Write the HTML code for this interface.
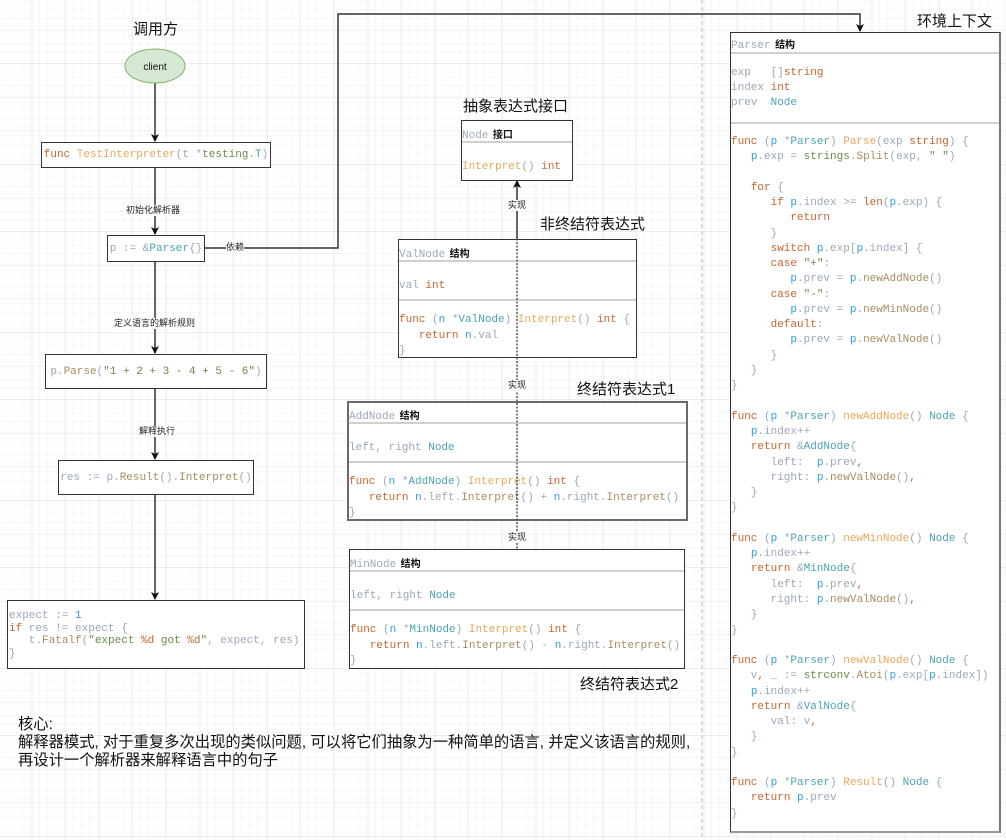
<!DOCTYPE html>
<html><head><meta charset="utf-8"><style>
body{margin:0;width:1006px;height:840px;position:relative;overflow:hidden;background:#fff;font-family:"Liberation Sans","Noto Sans CJK SC",sans-serif}
.a{position:absolute}
.box{position:absolute;background:#fff;border:1.5px solid #333;box-sizing:border-box}
pre,.c{font-family:"Liberation Mono","Noto Sans CJK SC",monospace;font-size:11px;margin:0;white-space:pre;color:#9aa8b8}
.k{color:#c8642c}.f{color:#e9a75a}.t{color:#4aa3b5}.p{color:#2d9ee0}.s{color:#6a8a4a}.m{color:#a88c60}.n{color:#4a8ac0}
.h{font-family:"Liberation Sans","Noto Sans CJK SC",sans-serif;font-weight:bold;color:#111;font-size:10px}
.sep{position:absolute;left:0;right:0;height:0;border-top:2px solid #d0d0d0}
.ttl{position:absolute;font-size:15px;color:#111;white-space:nowrap}
.lb{position:absolute;font-size:9px;color:#222;background:#fff;white-space:nowrap;line-height:11px}
.cen{display:flex;align-items:center;justify-content:center}
</style></head><body>
<svg class="a" style="left:0;top:0" width="1006" height="840">
<defs>
<pattern id="mi" x="-1.3" y="-3.3" width="8.4" height="8.4" patternUnits="userSpaceOnUse"><path d="M8.4 0V8.4M0 8.4H8.4" stroke="#f0f0f0" stroke-width="1" fill="none"/></pattern>
<pattern id="ma" x="-1.3" y="-3.3" width="33.6" height="33.6" patternUnits="userSpaceOnUse"><rect width="33.6" height="33.6" fill="url(#mi)"/><path d="M33.6 0V33.6M0 33.6H33.6" stroke="#dedede" stroke-width="1" fill="none"/></pattern>
<marker id="ar" markerWidth="8" markerHeight="8" refX="7" refY="4" orient="auto" markerUnits="userSpaceOnUse"><path d="M0,0 L8,4 L0,8 L2,4 Z" fill="#111"/></marker>
</defs>
<rect width="1006" height="840" fill="url(#ma)"/>
<line x1="702" y1="0" x2="702" y2="840" stroke="#bbb" stroke-dasharray="4,3"/>
<g stroke="#333" stroke-width="1.5" fill="none">
<line x1="155" y1="83" x2="155" y2="141" marker-end="url(#ar)"/>
<line x1="155" y1="167" x2="155" y2="234" marker-end="url(#ar)"/>
<line x1="155" y1="261" x2="155" y2="353" marker-end="url(#ar)"/>
<line x1="155" y1="388" x2="155" y2="459" marker-end="url(#ar)"/>
<line x1="155" y1="494" x2="155" y2="599" marker-end="url(#ar)"/>
<polyline points="204,248 338,248 338,14 860,14 860,31" marker-end="url(#ar)"/>
<line x1="517" y1="239" x2="517" y2="181" marker-end="url(#ar)"/>
</g>
<ellipse cx="155" cy="66" rx="30" ry="17" fill="#d5e8d4" stroke="#82b366"/>
<text x="155" y="70" font-size="10" text-anchor="middle" font-family="Liberation Sans" fill="#111">client</text>
</svg>

<div class="ttl" style="left:133px;top:18px">调用方</div>
<div class="lb" style="left:126px;top:205px">初始化解析器</div>
<div class="lb" style="left:226px;top:242px">依赖</div>
<div class="lb" style="left:114px;top:318px">定义语言的解析规则</div>
<div class="lb" style="left:139px;top:426px">解释执行</div>

<div class="box cen" style="left:41px;top:142px;width:230px;height:26px"><span class="c"><span class="k">func</span> <span class="f">TestInterpreter</span>(t *<span class="s">testing</span>.<span class="t">T</span>)</span></div>
<div class="box cen" style="left:107px;top:235px;width:98px;height:27px"><span class="c">p := &amp;<span class="t">Parser</span>{}</span></div>
<div class="box cen" style="left:45px;top:354px;width:222px;height:35px"><span class="c">p.<span class="m">Parse</span>(<span class="s">"1 + 2 + 3 - 4 + 5 - 6"</span>)</span></div>
<div class="box cen" style="left:58px;top:460px;width:196px;height:35px"><span class="c">res := p.<span class="m">Result</span>().<span class="m">Interpret</span>()</span></div>
<div class="box" style="left:7px;top:600px;width:298px;height:69px;padding:9px 0 0 1px"><pre style="line-height:12.5px">expect := <span class="n">1</span>
<span class="k">if</span> res != expect {
   t.<span class="m">Fatalf</span>(<span class="s">"expect <span class="k">%d</span> got <span class="k">%d</span>"</span>, expect, res)
}</pre></div>

<div class="a" style="left:18px;top:716px;font-size:15.3px;line-height:18px;color:#111;white-space:nowrap">核心:<br>解释器模式, 对于重复多次出现的类似问题, 可以将它们抽象为一种简单的语言, 并定义该语言的规则,<br>再设计一个解析器来解释语言中的句子</div>

<div class="ttl" style="left:463px;top:95px">抽象表达式接口</div>
<div class="box" style="left:461px;top:120px;width:112px;height:61px">
<div class="a" style="left:0;top:4px"><span class="c">Node</span> <span class="h">接口</span></div>
<div class="sep" style="top:20px"></div>
<div class="a" style="left:0;top:35px"><span class="c"><span class="f">Interpret</span>() <span class="k">int</span></span></div>
</div>
<div class="ttl" style="left:540px;top:213px">非终结符表达式</div>
<div class="box" style="left:398px;top:239px;width:239px;height:119px">
<div class="a" style="left:0;top:4px"><span class="c">ValNode</span> <span class="h">结构</span></div>
<div class="sep" style="top:20px"></div>
<div class="a" style="left:0;top:35px"><span class="c">val <span class="k">int</span></span></div>
<div class="sep" style="top:59px"></div>
<pre class="a" style="left:0;top:73px;line-height:15.5px"><span class="k">func</span> (<span class="p">n</span> *<span class="t">ValNode</span>) <span class="f">Interpret</span>() <span class="k">int</span> {
   <span class="k">return</span> <span class="p">n</span>.val
}</pre>
</div>
<div class="ttl" style="left:577px;top:378px">终结符表达式1</div>
<div class="box" style="left:347px;top:401px;width:341px;height:120px;border:2px solid #6a6a6a">
<div class="a" style="left:0;top:3px"><span class="c">AddNode</span> <span class="h">结构</span></div>
<div class="sep" style="top:19px"></div>
<div class="a" style="left:0;top:34px"><span class="c">left, right <span class="t">Node</span></span></div>
<div class="sep" style="top:58px"></div>
<pre class="a" style="left:0;top:72px;line-height:15.5px"><span class="k">func</span> (<span class="p">n</span> *<span class="t">AddNode</span>) <span class="f">Interpret</span>() <span class="k">int</span> {
   <span class="k">return</span> <span class="p">n</span>.left.<span class="m">Interpret</span>() + <span class="p">n</span>.right.<span class="m">Interpret</span>()
}</pre>
</div>
<div class="box" style="left:349px;top:549px;width:336px;height:120px">
<div class="a" style="left:0;top:4px"><span class="c">MinNode</span> <span class="h">结构</span></div>
<div class="sep" style="top:20px"></div>
<div class="a" style="left:0;top:35px"><span class="c">left, right <span class="t">Node</span></span></div>
<div class="sep" style="top:59px"></div>
<pre class="a" style="left:0;top:73px;line-height:15.5px"><span class="k">func</span> (<span class="p">n</span> *<span class="t">MinNode</span>) <span class="f">Interpret</span>() <span class="k">int</span> {
   <span class="k">return</span> <span class="p">n</span>.left.<span class="m">Interpret</span>() - <span class="p">n</span>.right.<span class="m">Interpret</span>()
}</pre>
</div>
<svg class="a" style="left:0;top:0;pointer-events:none" width="1006" height="840">
<line x1="517" y1="186" x2="517" y2="549" stroke="#555" stroke-width="1.5" stroke-dasharray="2,1.5"/>
</svg>
<div class="lb" style="left:508px;top:200px">实现</div>
<div class="lb" style="left:508px;top:380px">实现</div>
<div class="lb" style="left:508px;top:532px">实现</div>
<div class="ttl" style="left:580px;top:673px">终结符表达式2</div>

<div class="ttl" style="left:917px;top:10px">环境上下文</div>
<div class="box" style="left:730px;top:32px;width:271px;height:801px;border-right:2px solid #777;border-bottom:2px solid #999">
<div class="a" style="left:0;top:2px"><span class="c">Parser</span> <span class="h">结构</span></div>
<div class="sep" style="top:19px"></div>
<pre class="a" style="left:0;top:33px;line-height:15px">exp   []<span class="k">string</span>
index <span class="k">int</span>
prev  <span class="t">Node</span></pre>
<div class="sep" style="top:89px"></div>
<pre class="a" style="left:0;top:102px;line-height:15.27px"><span class="k">func</span> (<span class="p">p</span> *<span class="t">Parser</span>) <span class="f">Parse</span>(exp <span class="k">string</span>) {
   <span class="p">p</span>.exp = <span class="s">strings</span>.<span class="m">Split</span>(exp, <span class="s">" "</span>)

   <span class="k">for</span> {
      <span class="k">if</span> <span class="p">p</span>.index &gt;= <span class="k">len</span>(<span class="p">p</span>.exp) {
         <span class="k">return</span>
      }
      <span class="k">switch</span> <span class="p">p</span>.exp[<span class="p">p</span>.index] {
      <span class="k">case</span> <span class="s">"+"</span>:
         <span class="p">p</span>.prev = <span class="p">p</span>.<span class="m">newAddNode</span>()
      <span class="k">case</span> <span class="s">"-"</span>:
         <span class="p">p</span>.prev = <span class="p">p</span>.<span class="m">newMinNode</span>()
      <span class="k">default</span>:
         <span class="p">p</span>.prev = <span class="p">p</span>.<span class="m">newValNode</span>()
      }
   }
}

<span class="k">func</span> (<span class="p">p</span> *<span class="t">Parser</span>) <span class="f">newAddNode</span>() <span class="t">Node</span> {
   <span class="p">p</span>.index++
   <span class="k">return</span> &amp;<span class="t">AddNode</span>{
      left:  <span class="p">p</span>.prev<span class="k">,</span>
      right: <span class="p">p</span>.<span class="m">newValNode</span>()<span class="k">,</span>
   }
}

<span class="k">func</span> (<span class="p">p</span> *<span class="t">Parser</span>) <span class="f">newMinNode</span>() <span class="t">Node</span> {
   <span class="p">p</span>.index++
   <span class="k">return</span> &amp;<span class="t">MinNode</span>{
      left:  <span class="p">p</span>.prev<span class="k">,</span>
      right: <span class="p">p</span>.<span class="m">newValNode</span>()<span class="k">,</span>
   }
}

<span class="k">func</span> (<span class="p">p</span> *<span class="t">Parser</span>) <span class="f">newValNode</span>() <span class="t">Node</span> {
   v<span class="k">,</span> _ := <span class="s">strconv</span>.<span class="m">Atoi</span>(<span class="p">p</span>.exp[<span class="p">p</span>.index])
   <span class="p">p</span>.index++
   <span class="k">return</span> &amp;<span class="t">ValNode</span>{
      val: v<span class="k">,</span>
   }
}

<span class="k">func</span> (<span class="p">p</span> *<span class="t">Parser</span>) <span class="f">Result</span>() <span class="t">Node</span> {
   <span class="k">return</span> <span class="p">p</span>.prev
}</pre>
</div>
</body></html>
